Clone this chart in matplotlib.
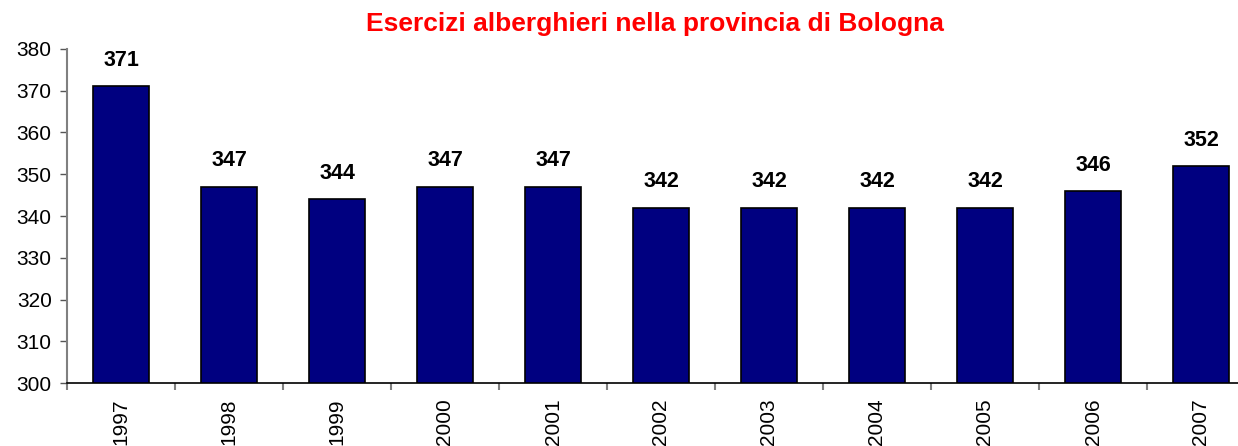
import matplotlib
matplotlib.use("Agg")
import matplotlib.pyplot as plt
import numpy as np

years = ["1997", "1998", "1999", "2000", "2001", "2002", "2003", "2004", "2005", "2006", "2007"]
values = [371, 347, 344, 347, 347, 342, 342, 342, 342, 346, 352]
title = "Esercizi alberghieri nella provincia di Bologna"

plt.rcParams['font.family'] = ['Liberation Sans', 'DejaVu Sans']

fig = plt.figure(figsize=(12.38, 4.46), dpi=100)
ax = fig.add_axes([67/1238, (446-383.3)/446, 1188/1238, 334.6/446])

x = np.arange(len(years))
ax.bar(x, values, width=0.51, bottom=0, color="#000080", edgecolor="black", linewidth=1.2)
ax.set_ylim(300, 380)
ax.set_xlim(-0.5, len(years)-0.5)
ax.set_yticks(range(300, 381, 10))
ax.tick_params(axis='y', labelsize=15, length=5, width=1, color="#555555", pad=6)

ax.set_xticks(x)
ax.set_xticklabels(years, rotation=90, fontsize=15)
ax.tick_params(axis='x', length=0, pad=11)
ax.set_xticks(np.arange(-0.5, len(years), 1), minor=True)
ax.tick_params(axis='x', which='minor', length=5, width=1.5, color="#808080")

for s in ['top', 'right']:
    ax.spines[s].set_visible(False)
ax.spines['left'].set_color("#808080")
ax.spines['left'].set_linewidth(1.5)
ax.spines['bottom'].set_color("black")
ax.spines['bottom'].set_linewidth(1.2)

for xi, v in zip(x, values):
    ax.annotate(str(v), (xi, v), xytext=(0, 11), textcoords='offset points',
                ha='center', va='bottom', fontsize=15.5, fontweight='bold')

fig.text(655/1238, 1 - 23.5/446, title, ha='center', va='center', color="#ff0000",
         fontsize=19, fontweight='bold')

fig.savefig("out.png", dpi=100)
